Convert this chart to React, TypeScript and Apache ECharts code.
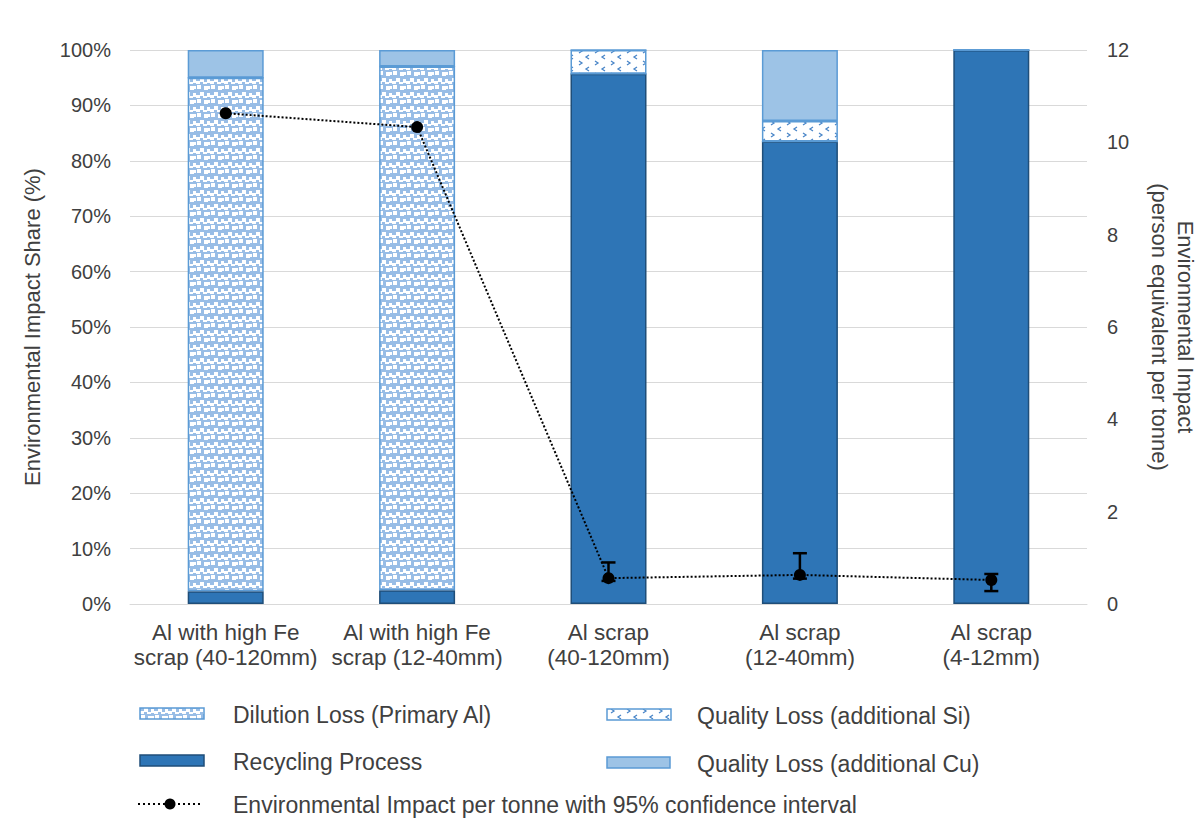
import React, { useEffect, useRef } from "react";
import * as echarts from "echarts";

const categories = [
  "Al with high Fe\nscrap (40-120mm)",
  "Al with high Fe\nscrap (12-40mm)",
  "Al scrap\n(40-120mm)",
  "Al scrap\n(12-40mm)",
  "Al scrap\n(4-12mm)",
];

// Share of environmental impact (%), stacked bottom to top
const recyclingProcess = [2.3, 2.5, 95.7, 83.5, 100];
const dilutionLoss = [92.7, 94.5, 0, 0, 0];
const qualityLossSi = [0, 0, 4.3, 3.7, 0];
const qualityLossCu = [5, 3, 0, 12.8, 0];

// Environmental impact per tonne (person equivalent) with 95% CI
const impactPerTonne = [10.63, 10.33, 0.56, 0.63, 0.52];
const ciLower = [10.63, 10.33, 0.5, 0.55, 0.28];
const ciUpper = [10.63, 10.33, 0.9, 1.1, 0.65];

const leftTicks = { min: 0, max: 100, interval: 10 };
const rightTicks = { min: 0, max: 12, interval: 2 };

const FONT = "'Liberation Sans', Arial, sans-serif";
const TEXT = "#404040";
const DARK_BLUE = "#2e75b6";
const DARK_EDGE = "#1f4e79";
const LIGHT_BLUE = "#9dc3e6";
const LIGHT_EDGE = "#5b9bd5";

function dilutionPattern() {
  const c = document.createElement("canvas");
  c.width = 14;
  c.height = 14;
  const g = c.getContext("2d")!;
  g.fillStyle = "#98bde6";
  g.fillRect(0, 0, 14, 14);
  g.fillStyle = "#ffffff";
  const sq = [
    [1, 1], [8, 2], [4, 8], [11, 9], [0, 11], [7, 12],
  ];
  sq.forEach(([x, y]) => g.fillRect(x, y, 4, 4));
  g.fillRect(12, 2, 2, 3);
  return { image: c.toDataURL(), repeat: "repeat", imageWidth: 14, imageHeight: 14 };
}

function siPattern() {
  const c = document.createElement("canvas");
  c.width = 16;
  c.height = 12;
  const g = c.getContext("2d")!;
  g.fillStyle = "#ffffff";
  g.fillRect(0, 0, 16, 12);
  g.strokeStyle = "#4a86c8";
  g.lineWidth = 1.3;
  g.beginPath();
  g.moveTo(3, 1); g.lineTo(6, 3); g.lineTo(3, 5);
  g.moveTo(13, 7); g.lineTo(10, 9); g.lineTo(13, 11);
  g.stroke();
  return { image: c.toDataURL(), repeat: "repeat", imageWidth: 16, imageHeight: 12 };
}

export default function App() {
  const ref = useRef<HTMLDivElement>(null);

  useEffect(() => {
    if (!ref.current) return;
    const chart = echarts.init(ref.current, undefined, { renderer: "svg" });
    const dil = dilutionPattern();
    const si = siPattern();

    const barBase = {
      type: "bar",
      stack: "share",
      barWidth: 76,
      yAxisIndex: 0,
    };

    const legendText = (x: number, y: number, text: string) => ({
      type: "text",
      x,
      y,
      style: { text, fill: TEXT, font: `23px ${FONT}`, verticalAlign: "middle" },
    });

    chart.setOption({
      animation: false,
      backgroundColor: "#ffffff",
      grid: { left: 130, right: 113, top: 50, bottom: 233 },
      xAxis: {
        type: "category",
        data: categories,
        axisLine: { lineStyle: { color: "#d9d9d9", width: 1 } },
        axisTick: { show: false },
        axisLabel: {
          color: TEXT,
          fontFamily: FONT,
          fontSize: 22.5,
          lineHeight: 25,
          margin: 16,
          interval: 0,
        },
      },
      yAxis: [
        {
          type: "value",
          ...leftTicks,
          axisLine: { show: false },
          axisTick: { show: false },
          splitLine: { lineStyle: { color: "#d9d9d9", width: 1 } },
          axisLabel: {
            formatter: "{value}%",
            color: TEXT,
            fontFamily: FONT,
            fontSize: 20,
            margin: 19,
          },
        },
        {
          type: "value",
          position: "right",
          ...rightTicks,
          axisLine: { show: false },
          axisTick: { show: false },
          splitLine: { show: false },
          axisLabel: {
            color: TEXT,
            fontFamily: FONT,
            fontSize: 20,
            margin: 20,
          },
        },
      ],
      series: [
        {
          ...barBase,
          name: "Recycling Process",
          data: recyclingProcess,
          itemStyle: { color: DARK_BLUE, borderColor: DARK_EDGE, borderWidth: 1.5 },
        },
        {
          ...barBase,
          name: "Dilution Loss (Primary Al)",
          data: dilutionLoss,
          itemStyle: { color: dil, borderColor: LIGHT_EDGE, borderWidth: 1.5 },
        },
        {
          ...barBase,
          name: "Quality Loss (additional Si)",
          data: qualityLossSi,
          itemStyle: { color: si, borderColor: LIGHT_EDGE, borderWidth: 1.5 },
        },
        {
          ...barBase,
          name: "Quality Loss (additional Cu)",
          data: qualityLossCu,
          itemStyle: { color: LIGHT_BLUE, borderColor: LIGHT_EDGE, borderWidth: 1.5 },
        },
        {
          type: "line",
          name: "Environmental Impact per tonne",
          yAxisIndex: 1,
          data: impactPerTonne,
          symbol: "circle",
          symbolSize: 12,
          itemStyle: { color: "#000" },
          lineStyle: { color: "#000", width: 2, type: "dotted" },
          z: 5,
        },
        {
          type: "custom",
          name: "95% CI",
          yAxisIndex: 1,
          data: categories.map((_, i) => [i, ciLower[i], ciUpper[i]]),
          z: 6,
          renderItem: (params: any, api: any) => {
            const i = api.value(0);
            const lo = api.value(1);
            const hi = api.value(2);
            if (hi - lo < 1e-6) return null;
            const pLo = api.coord([i, lo]);
            const pHi = api.coord([i, hi]);
            const w = 7;
            const style = { stroke: "#000", lineWidth: 2.5 };
            return {
              type: "group",
              children: [
                { type: "line", shape: { x1: pLo[0], y1: pLo[1], x2: pHi[0], y2: pHi[1] }, style },
                { type: "line", shape: { x1: pHi[0] - w, y1: pHi[1], x2: pHi[0] + w, y2: pHi[1] }, style },
                { type: "line", shape: { x1: pLo[0] - w, y1: pLo[1], x2: pLo[0] + w, y2: pLo[1] }, style },
              ],
            };
          },
        },
      ],
      graphic: [
        {
          type: "text",
          x: 32,
          y: 327,
          rotation: Math.PI / 2,
          style: {
            text: "Environmental Impact Share (%)",
            fill: TEXT,
            font: `22px ${FONT}`,
            align: "center",
            verticalAlign: "middle",
          },
        },
        {
          type: "text",
          x: 1185,
          y: 327,
          rotation: -Math.PI / 2,
          style: {
            text: "Environmental Impact",
            fill: TEXT,
            font: `22px ${FONT}`,
            align: "center",
            verticalAlign: "middle",
          },
        },
        {
          type: "text",
          x: 1159,
          y: 327,
          rotation: -Math.PI / 2,
          style: {
            text: "(person equivalent per tonne)",
            fill: TEXT,
            font: `22px ${FONT}`,
            align: "center",
            verticalAlign: "middle",
          },
        },
        // legend
        {
          type: "rect",
          shape: { x: 140, y: 708, width: 64, height: 11 },
          style: { fill: dil, stroke: LIGHT_EDGE, lineWidth: 1.5 },
        },
        legendText(233, 715, "Dilution Loss (Primary Al)"),
        {
          type: "rect",
          shape: { x: 140, y: 755, width: 64, height: 11 },
          style: { fill: DARK_BLUE, stroke: DARK_EDGE, lineWidth: 1.5 },
        },
        legendText(233, 762, "Recycling Process"),
        {
          type: "line",
          shape: { x1: 138, y1: 804, x2: 201, y2: 804 },
          style: { stroke: "#000", lineWidth: 2, lineDash: [2, 3] },
        },
        {
          type: "circle",
          shape: { cx: 170, cy: 804, r: 5.5 },
          style: { fill: "#000" },
        },
        legendText(233, 805, "Environmental Impact per tonne with 95% confidence interval"),
        {
          type: "rect",
          shape: { x: 607, y: 709, width: 64, height: 11 },
          style: { fill: si, stroke: LIGHT_EDGE, lineWidth: 1.5 },
        },
        legendText(697, 716, "Quality Loss (additional Si)"),
        {
          type: "rect",
          shape: { x: 607, y: 757, width: 63, height: 11 },
          style: { fill: LIGHT_BLUE, stroke: LIGHT_EDGE, lineWidth: 1.5 },
        },
        legendText(697, 764, "Quality Loss (additional Cu)"),
      ],
    });

    return () => chart.dispose();
  }, []);

  return (
    <div
      ref={ref}
      style={{ position: "fixed", left: 0, top: 0, width: 1200, height: 837, background: "#fff" }}
    />
  );
}
